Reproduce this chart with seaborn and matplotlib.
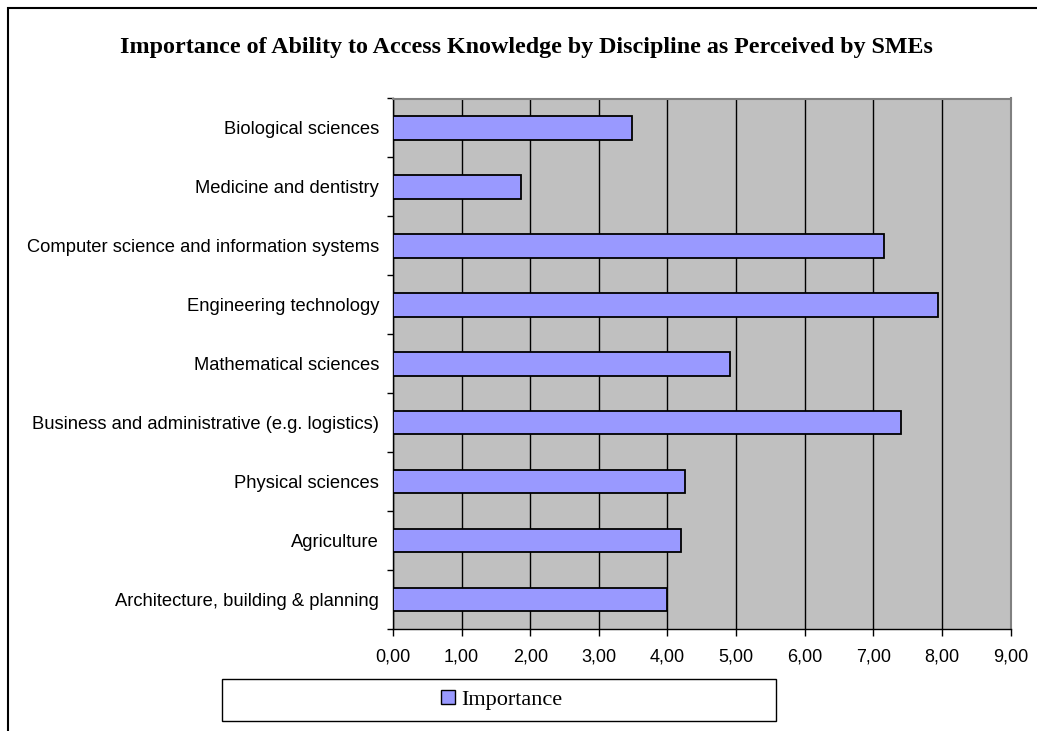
import matplotlib
matplotlib.use("Agg")
import matplotlib.pyplot as plt
import seaborn as sns
import pandas as pd
from matplotlib.patches import Rectangle, Patch

# Survey results: perceived importance per discipline
disciplines = [
    "Biological sciences",
    "Medicine and dentistry",
    "Computer science and information systems",
    "Engineering technology",
    "Mathematical sciences",
    "Business and administrative (e.g. logistics)",
    "Physical sciences",
    "Agriculture",
    "Architecture, building & planning",
]
importance = [3.49, 1.87, 7.15, 7.94, 4.91, 7.40, 4.25, 4.20, 4.00]
x_ticks = [0, 1, 2, 3, 4, 5, 6, 7, 8, 9]
x_tick_labels = ["0,00", "1,00", "2,00", "3,00", "4,00", "5,00", "6,00", "7,00", "8,00", "9,00"]
series_name = "Importance"
title = "Importance of Ability to Access Knowledge by Discipline as Perceived by SMEs"

sns.set_theme(style="white")
plt.rcParams["font.family"] = ["Liberation Sans", "DejaVu Sans"]

W, H = 1037, 731
fig = plt.figure(figsize=(W / 100, H / 100), dpi=100)
fig.patch.set_facecolor("white")

# plot area
left, right, top, bottom = 393, 1010.5, 98.5, 629
ax = fig.add_axes([left / W, 1 - bottom / H, (right - left) / W, (bottom - top) / H])
ax.set_facecolor("#C0C0C0")

df = pd.DataFrame({"Discipline": disciplines, series_name: importance})
sns.barplot(data=df, x=series_name, y="Discipline", orient="h", color="#9999FF",
            saturation=1, width=0.4, edgecolor="black", linewidth=1.3, ax=ax, zorder=3)

ax.set_xlim(0, 9)
ax.set_ylim(len(disciplines) - 0.5, -0.5)
ax.set_xlabel("")
ax.set_ylabel("")

# vertical gridlines
ax.set_axisbelow(True)
ax.xaxis.grid(True, color="black", linewidth=1.0)
ax.yaxis.grid(False)

ax.set_xticks(x_ticks, labels=x_tick_labels)
ax.tick_params(axis="x", direction="out", length=5, width=1, color="black",
               pad=9, labelsize=13, labelcolor="black", bottom=True)
ax.tick_params(axis="y", which="major", length=0, pad=10, labelsize=13.2, labelcolor="black")
ax.set_yticks([i + 0.5 for i in range(-1, len(disciplines))], minor=True)
ax.tick_params(axis="y", which="minor", direction="out", length=4, width=1,
               color="black", left=True)

for side in ("left", "bottom"):
    ax.spines[side].set_color("black")
    ax.spines[side].set_linewidth(1.0)
for side in ("top", "right"):
    ax.spines[side].set_color("#808080")
    ax.spines[side].set_linewidth(1.5)

# title
fig.text(526 / W, 1 - 48 / H, title, ha="center", va="center",
         fontfamily="Liberation Serif", fontweight="bold", fontsize=17.3, color="black")

# outer chart frame
fig.add_artist(Rectangle((8 / W, -0.05), 1.1, (1 - 8 / H) + 0.05, transform=fig.transFigure,
                         fill=False, edgecolor="black", linewidth=1.5, clip_on=False))

# legend box
lx0, lx1, ly0, ly1 = 222, 776, 679, 721
fig.add_artist(Rectangle((lx0 / W, 1 - ly1 / H), (lx1 - lx0) / W, (ly1 - ly0) / H,
                         transform=fig.transFigure, facecolor="white", edgecolor="black",
                         linewidth=1.0))
fig.legend(handles=[Patch(facecolor="#9999FF", edgecolor="black", linewidth=1.0, label=series_name)],
           loc="center", bbox_to_anchor=(502 / W, 1 - 700 / H), frameon=False,
           prop={"family": "Liberation Serif", "size": 16}, labelcolor="black",
           handlelength=0.62, handleheight=0.62, handletextpad=0.3, borderpad=0)

fig.savefig("out.png", dpi=100)
